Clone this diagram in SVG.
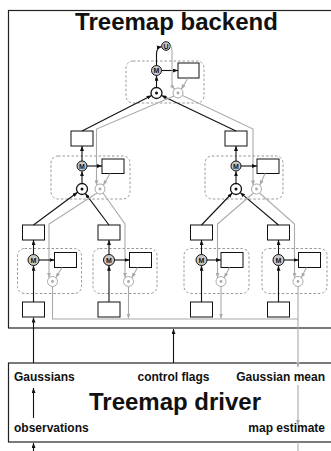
<svg xmlns="http://www.w3.org/2000/svg" width="331" height="451" viewBox="0 0 331 451">
<style>
.box{fill:#fff;stroke:#222;stroke-width:1.2}
.title{font-family:"Liberation Sans",Arial,sans-serif;font-weight:bold;font-size:24px;fill:#111}
.lbl{font-family:"Liberation Sans",Arial,sans-serif;font-weight:bold;font-size:12px;fill:#111}
.dash{fill:none;stroke:#999;stroke-width:1;stroke-dasharray:2.5,2}
.r{fill:#fff;stroke:#111;stroke-width:1}
.m{fill:#c8c8c8;stroke:#111;stroke-width:1}
.mt{font-family:"Liberation Sans",Arial,sans-serif;font-weight:bold;font-size:7px;fill:#111;text-anchor:middle}
.dot{fill:#fff;stroke:#111;stroke-width:1.3}
.gc{fill:#fff;stroke:#aaa;stroke-width:1}
.bl{fill:none;stroke:#111;stroke-width:1.1;marker-end:url(#ab)}
.gl{fill:none;stroke:#aaa;stroke-width:1.1;marker-end:url(#ag)}
.gn{fill:none;stroke:#aaa;stroke-width:1.1}
</style>
<defs>
<marker id="ab" markerUnits="userSpaceOnUse" markerWidth="5" markerHeight="4" refX="5" refY="2" orient="auto"><path d="M0,0 L5,2 L0,4 z" fill="#111"/></marker>
<marker id="ag" markerUnits="userSpaceOnUse" markerWidth="5" markerHeight="4" refX="5" refY="2" orient="auto"><path d="M0,0 L5,2 L0,4 z" fill="#aaa"/></marker>
</defs>

<g id="backend">
<rect class="box" x="8.5" y="10.5" width="340" height="317.5"/>
<text class="title" x="176.5" y="30" text-anchor="middle">Treemap backend</text>
</g>
<g id="driver">
<rect class="box" x="8.5" y="363" width="340" height="79"/>
<text class="title" x="175" y="410" text-anchor="middle">Treemap driver</text>
<text class="lbl" x="14" y="381">Gaussians</text>
<text class="lbl" x="173.5" y="381" text-anchor="middle">control flags</text>
<text class="lbl" x="325" y="381" text-anchor="end">Gaussian mean</text>
<text class="lbl" x="14" y="432">observations</text>
<text class="lbl" x="325" y="432" text-anchor="end">map estimate</text>
</g>

<g id="root">
<rect class="dash" x="126" y="61" width="78" height="42" rx="7"/>
<rect class="r" x="178" y="63" width="21" height="15"/>
<circle class="m" cx="166" cy="46" r="4.3"/><text class="mt" x="166" y="48.5">U</text>
<circle class="m" cx="156.5" cy="70.5" r="5"/><text class="mt" x="156.5" y="73">M</text>
<circle class="dot" cx="156.5" cy="93" r="5.5"/><circle cx="156.5" cy="93" r="1.5" fill="#111"/>
<circle class="gc" cx="178" cy="93" r="5"/><circle cx="178" cy="93" r="1.4" fill="#aaa"/>
</g>

<g id="l1-left">
<rect class="dash" x="51" y="156" width="79" height="43" rx="7"/>
<rect class="r" x="71" y="131" width="22" height="15"/>
<rect class="r" x="102" y="159" width="22" height="14.5"/>
<circle class="m" cx="82" cy="166" r="5"/><text class="mt" x="82" y="168.5">M</text>
<circle class="dot" cx="82" cy="189" r="5.5"/><circle cx="82" cy="189" r="1.5" fill="#111"/>
<circle class="gc" cx="100" cy="189" r="5"/><circle cx="100" cy="189" r="1.4" fill="#aaa"/>
</g>

<g id="l1-right">
<rect class="dash" x="205" y="156" width="78" height="43" rx="7"/>
<rect class="r" x="225" y="131" width="22" height="15"/>
<rect class="r" x="257" y="159" width="22" height="14.5"/>
<circle class="m" cx="236" cy="166" r="5"/><text class="mt" x="236" y="168.5">M</text>
<circle class="dot" cx="236" cy="189" r="5.5"/><circle cx="236" cy="189" r="1.5" fill="#111"/>
<circle class="gc" cx="256.5" cy="189" r="5"/><circle cx="256.5" cy="189" r="1.4" fill="#aaa"/>
</g>

<g id="leaf1">
<rect class="dash" x="17.5" y="248.5" width="64" height="45" rx="7"/>
<rect class="r" x="22.5" y="225" width="22" height="15"/>
<rect class="r" x="54.5" y="252.5" width="22" height="15"/>
<rect class="r" x="22.5" y="302" width="22" height="15"/>
<circle class="m" cx="33.5" cy="260" r="5.5"/><text class="mt" x="33.5" y="262.5">M</text>
<circle class="gc" cx="52.5" cy="281.5" r="5"/><circle cx="52.5" cy="281.5" r="1.4" fill="#aaa"/>
</g>
<g id="leaf2">
<rect class="dash" x="93" y="248.5" width="64" height="45" rx="7"/>
<rect class="r" x="98" y="225" width="22" height="15"/>
<rect class="r" x="129.5" y="252.5" width="22" height="15"/>
<rect class="r" x="98" y="302" width="22" height="15"/>
<circle class="m" cx="109" cy="260" r="5.5"/><text class="mt" x="109" y="262.5">M</text>
<circle class="gc" cx="128.5" cy="281.5" r="5"/><circle cx="128.5" cy="281.5" r="1.4" fill="#aaa"/>
</g>
<g id="leaf3">
<rect class="dash" x="184" y="248.5" width="65" height="45" rx="7"/>
<rect class="r" x="190.5" y="225" width="22" height="15"/>
<rect class="r" x="221" y="252.5" width="22" height="15"/>
<rect class="r" x="190.5" y="302" width="22" height="15"/>
<circle class="m" cx="201.5" cy="260" r="5.5"/><text class="mt" x="201.5" y="262.5">M</text>
<circle class="gc" cx="221" cy="281.5" r="5"/><circle cx="221" cy="281.5" r="1.4" fill="#aaa"/>
</g>
<g id="leaf4">
<rect class="dash" x="262" y="248.5" width="65" height="45" rx="7"/>
<rect class="r" x="267.5" y="225" width="22" height="15"/>
<rect class="r" x="298.5" y="252.5" width="22" height="15"/>
<rect class="r" x="267.5" y="302" width="22" height="15"/>
<circle class="m" cx="278.5" cy="260" r="5.5"/><text class="mt" x="278.5" y="262.5">M</text>
<circle class="gc" cx="298" cy="281.5" r="5"/><circle cx="298" cy="281.5" r="1.4" fill="#aaa"/>
</g>

<g id="connectors">
<!-- root -->
<path class="bl" d="M156.5,87.5 V75.8"/>
<path class="bl" d="M161.5,70.5 H178"/>
<path class="bl" d="M156.5,65.5 V54 Q156.5,47.5 161.7,46.8"/>
<path class="gl" d="M170.3,46 Q172,46.5 172,52 V86 L174.5,89.4"/>
<path class="gl" d="M188,78 L181.3,89.2"/>
<path class="bl" d="M82,131 L151.6,95.5"/>
<path class="bl" d="M236,131 L161.5,95.4"/>
<path class="gl" d="M174,96 L96.5,129 V185.3"/>
<path class="gl" d="M182.5,95.5 L253,129 V185.4"/>
<!-- level 1 left -->
<path class="bl" d="M82,183.5 V171.2"/>
<path class="bl" d="M82,161 V146"/>
<path class="bl" d="M87,166 H102"/>
<path class="gl" d="M110,173.5 L103.3,185.3"/>
<path class="bl" d="M33.5,225 L77.6,192.3"/>
<path class="bl" d="M109,225 L85.3,193.4"/>
<path class="gl" d="M97,193 L49,224 V277.8"/>
<path class="gl" d="M103,193 L125,224 V277.8"/>
<!-- level 1 right -->
<path class="bl" d="M236,183.5 V171.2"/>
<path class="bl" d="M236,161 V146"/>
<path class="bl" d="M241,166 H257"/>
<path class="gl" d="M265,173.5 L259.8,185.3"/>
<path class="bl" d="M201.5,225 L232.2,193"/>
<path class="bl" d="M278.5,225 L240.2,192.6"/>
<path class="gl" d="M253.5,193 L217.5,224 V277.8"/>
<path class="gl" d="M259.5,193 L294.5,224 V277.8"/>
<!-- leaves -->
<path class="bl" d="M33.5,302 V265.7"/>
<path class="bl" d="M33.5,254.5 V240"/>
<path class="bl" d="M39,260 H54.5"/>
<path class="gl" d="M62,267.5 L55.8,277.8"/>
<path class="bl" d="M109,302 V265.7"/>
<path class="bl" d="M109,254.5 V240"/>
<path class="bl" d="M114.5,260 H129.5"/>
<path class="gl" d="M137.5,267.5 L131.8,277.8"/>
<path class="bl" d="M201.5,302 V265.7"/>
<path class="bl" d="M201.5,254.5 V240"/>
<path class="bl" d="M207,260 H221"/>
<path class="gl" d="M229.5,267.5 L224.3,277.8"/>
<path class="bl" d="M278.5,302 V265.7"/>
<path class="bl" d="M278.5,254.5 V240"/>
<path class="bl" d="M284,260 H298.5"/>
<path class="gl" d="M306.5,267.5 L301.3,277.8"/>
<!-- gray bus -->
<path class="gn" d="M52.5,286.5 V319 H298"/>
<path class="gl" d="M128.5,286.5 V318.5"/>
<path class="gl" d="M221,286.5 V318.5"/>
<path class="gl" d="M298,286.5 V367"/>
<path class="gl" d="M298,385 V425"/>
<path class="gn" d="M298,442 V451"/>
<!-- inputs -->
<path class="bl" d="M33.5,363 V317.5"/>
<path class="bl" d="M33.5,418 V388"/>
<path class="bl" d="M33.5,451 V443"/>
<path class="bl" d="M173.5,363 V329"/>
</g>
</svg>
